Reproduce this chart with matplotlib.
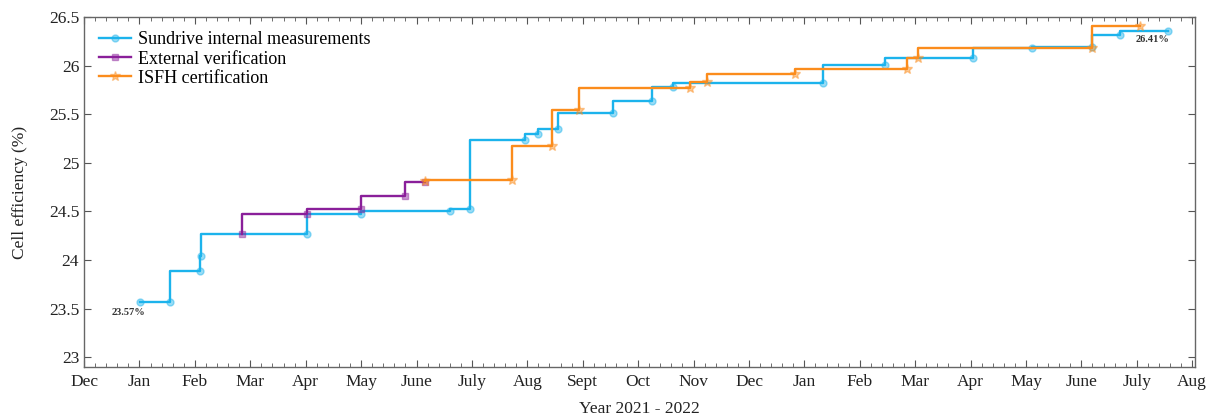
import matplotlib
matplotlib.use("Agg")
import matplotlib.pyplot as plt
from matplotlib.ticker import MultipleLocator

plt.rcParams['font.family'] = ['Liberation Serif', 'DejaVu Serif']

# x positions are months counted from Dec 2020
month_labels = ['Dec', 'Jan', 'Feb', 'Mar', 'Apr', 'May', 'June', 'July', 'Aug',
                'Sept', 'Oct', 'Nov', 'Dec', 'Jan', 'Feb', 'Mar', 'Apr', 'May',
                'June', 'July', 'Aug']

sundrive_x = [1.01, 1.55, 2.09, 2.11, 4.03, 5.00, 6.61, 6.97, 7.96, 8.19, 8.56,
              9.55, 10.25, 10.63, 13.34, 14.46, 16.05, 17.11, 18.19, 18.70, 19.57]
sundrive_y = [23.57, 23.57, 23.89, 24.04, 24.27, 24.47, 24.50, 24.53, 25.24, 25.30,
              25.35, 25.51, 25.64, 25.78, 25.82, 26.01, 26.08, 26.18, 26.19, 26.31,
              26.36]

external_x = [2.85, 4.03, 5.00, 5.79, 6.16]
external_y = [24.27, 24.47, 24.53, 24.66, 24.80]

isfh_x = [6.16, 7.73, 8.45, 8.94, 10.94, 11.25, 12.83, 14.86, 15.05, 18.19, 19.06]
isfh_y = [24.81, 24.82, 25.17, 25.54, 25.77, 25.83, 25.91, 25.97, 26.08, 26.18, 26.41]

blue = '#1cb3ec'
purple = '#8a1f9a'
orange = '#fb8c1c'

fig = plt.figure(figsize=(12.2, 4.19), dpi=100)
ax = fig.add_axes([0.0689, 0.1241, 0.9106, 0.8353])

def step_line(x, y, color, marker, label, ms):
    rgb = matplotlib.colors.to_rgb(color)
    ax.plot(x, y, drawstyle='steps-pre', color=color, lw=1.7, marker=marker,
            ms=ms, mfc=(*rgb, 0.45), mec=(*rgb, 0.45), label=label)

step_line(sundrive_x, sundrive_y, blue, 'o', 'Sundrive internal measurements', 5)
step_line(external_x, external_y, purple, 's', 'External verification', 5)
step_line(isfh_x, isfh_y, orange, '*', 'ISFH certification', 7)

ax.text(0.80, 23.46, '%.2f%%' % sundrive_y[0], fontsize=7.5, color='#333333',
        ha='center', va='center', fontweight='bold')
ax.text(19.28, 26.27, '%.2f%%' % isfh_y[-1], fontsize=7.5, color='#333333',
        ha='center', va='center', fontweight='bold')

ax.set_xlim(0, 20.05)
ax.set_ylim(22.9, 26.5)
ax.set_xticks(range(len(month_labels)))
ax.set_xticklabels(month_labels)
ax.xaxis.set_minor_locator(MultipleLocator(0.2))
ax.set_yticks([23, 23.5, 24, 24.5, 25, 25.5, 26, 26.5])
ax.set_yticklabels(['23', '23.5', '24', '24.5', '25', '25.5', '26', '26.5'])
ax.tick_params(which='both', direction='in', top=True, right=True,
               labelsize=12.5, colors='#555555', labelcolor='#222222')
ax.tick_params(which='major', length=5)
ax.tick_params(which='minor', length=3)
ax.tick_params(axis='x', pad=5)
for s in ax.spines.values():
    s.set_color('#666666')
    s.set_linewidth(1.0)

ax.set_xlabel('Year 2021 - 2022', fontsize=12.5, color='#222222', labelpad=8)
ax.set_ylabel('Cell efficiency (%)', fontsize=12.5, color='#222222', labelpad=15)

ax.legend(loc='upper left', frameon=False, fontsize=13, handlelength=1.8,
          handletextpad=0.4, labelspacing=0.12, borderaxespad=0.4)

fig.savefig('out.png', dpi=100)
